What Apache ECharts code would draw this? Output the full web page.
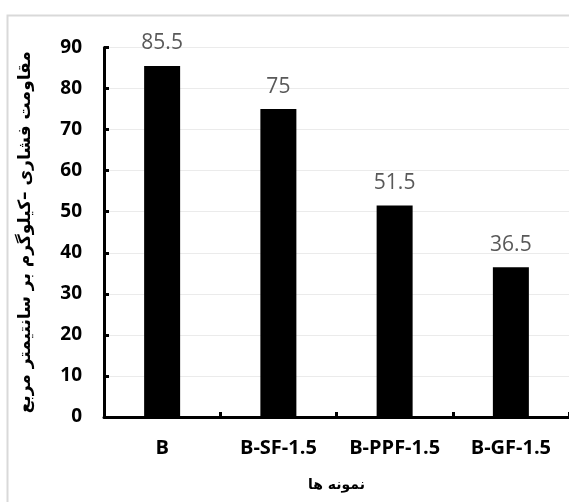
<!DOCTYPE html>
<html>
<head>
<meta charset="utf-8">
<script src="https://cdn.jsdelivr.net/npm/echarts@6/dist/echarts.min.js"></script>
<style>html,body{margin:0;padding:0;background:#fff}#c{width:569px;height:502px}</style>
</head>
<body>
<div id="c"></div>
<script>
const categories = ["B", "B-SF-1.5", "B-PPF-1.5", "B-GF-1.5"];
const values = [85.5, 75, 51.5, 36.5];
const yTicks = [0, 10, 20, 30, 40, 50, 60, 70, 80, 90];
const yName = "مقاومت فشاری –کیلوگرم بر سانتیمتر مربع";
const xName = "نمونه ها";

const chart = echarts.init(document.getElementById('c'));
chart.setOption({
  backgroundColor: '#ffffff',
  animation: false,
  graphic: [{
    type: 'rect', left: 5, top: 13, z: -1,
    shape: { width: 600, height: 520 },
    style: { fill: 'none', stroke: '#d9d9d9', lineWidth: 2 }
  }],
  grid: { left: 104, right: 0, top: 47.5, bottom: 85 },
  xAxis: {
    type: 'category',
    data: categories,
    name: xName,
    nameLocation: 'middle',
    nameGap: 61,
    nameTextStyle: { fontFamily: 'DejaVu Sans', fontSize: 14, fontWeight: 'bold', color: '#000' },
    axisLine: { lineStyle: { color: '#000', width: 3 } },
    axisTick: { show: true, inside: true, interval: 0, length: 5, lineStyle: { color: '#000', width: 3 } },
    axisLabel: { interval: 0, hideOverlap: false, margin: 21, fontFamily: 'Open Sans', fontWeight: 'bold', fontSize: 20, color: '#000' }
  },
  yAxis: {
    type: 'value',
    min: yTicks[0], max: yTicks[yTicks.length - 1], interval: 10,
    name: yName,
    nameLocation: 'middle',
    nameGap: 70,
    nameRotate: 90,
    nameTextStyle: { fontFamily: 'DejaVu Sans', fontSize: 17, fontWeight: 'bold', color: '#000' },
    axisLine: { show: true, lineStyle: { color: '#000', width: 3 } },
    axisTick: { show: true, inside: true, length: 5, lineStyle: { color: '#000', width: 3 } },
    axisLabel: { margin: 22, fontFamily: 'Open Sans', fontWeight: 'bold', fontSize: 19, color: '#000' },
    splitLine: { show: true, lineStyle: { color: '#ebebeb', width: 1 } }
  },
  series: [{
    type: 'bar',
    data: values,
    barWidth: 36,
    itemStyle: { color: '#000' },
    label: {
      show: true, position: 'top', distance: 12,
      fontFamily: 'Open Sans', fontSize: 21, color: '#595959'
    }
  }]
});
</script>
</body>
</html>
